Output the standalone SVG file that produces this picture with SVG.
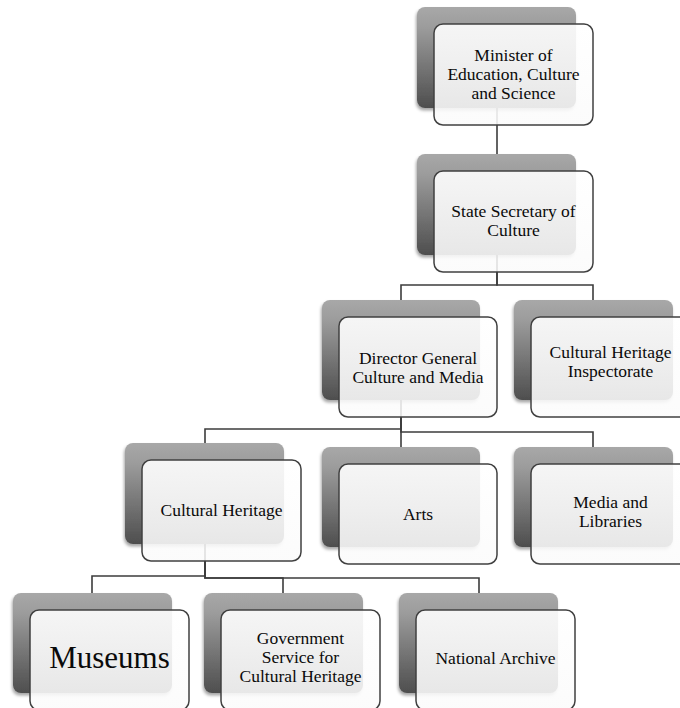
<svg xmlns="http://www.w3.org/2000/svg" width="680" height="708" viewBox="0 0 680 708">
<defs>
<linearGradient id="gBack" x1="0" y1="0" x2="0" y2="1">
<stop offset="0" stop-color="#a8a8a8"/>
<stop offset="0.2" stop-color="#9c9c9c"/>
<stop offset="1" stop-color="#4e4e4e"/>
</linearGradient>
<linearGradient id="gFront" x1="0" y1="0" x2="0" y2="1">
<stop offset="0" stop-color="#ffffff" stop-opacity="0.9"/>
<stop offset="1" stop-color="#fbfbfb" stop-opacity="0.88"/>
</linearGradient>
<filter id="drop" x="-10%" y="-10%" width="120%" height="125%">
<feDropShadow dx="-1" dy="2.5" stdDeviation="1.8" flood-color="#000" flood-opacity="0.35"/>
</filter>
</defs>
<style>
.back{fill:url(#gBack);filter:url(#drop);}
.front{fill:url(#gFront);stroke:#404040;stroke-width:1.5;}
.lbl{font-family:"Liberation Serif","Times New Roman",serif;font-size:17.5px;fill:#0a0a0a;text-anchor:middle;}
.big{font-size:31px;}
.conn{fill:none;stroke:#3c3c3c;stroke-width:1.6;}
</style>
<g id="connectors">
<path class="conn" d="M497,108 V154"/>
<path class="conn" d="M497,255 V285 H401 V300"/>
<path class="conn" d="M497,255 V285 H593 V300"/>
<path class="conn" d="M401,400 V429 H205 V443"/>
<path class="conn" d="M401,400 V447"/>
<path class="conn" d="M401,400 V432 H593 V447"/>
<path class="conn" d="M205,544 V576 H92 V593"/>
<path class="conn" d="M205,544 V578 H283 V593"/>
<path class="conn" d="M205,544 V578 H479 V593"/>
</g>
<g id="minister">
<rect class="back" x="417" y="7" width="159" height="101" rx="8"/>
<rect class="front" x="434" y="24" width="159" height="101" rx="9"/>
<text class="lbl"><tspan x="513.5" y="61">Minister of</tspan><tspan x="513.5" y="80">Education, Culture</tspan><tspan x="513.5" y="99">and Science</tspan></text>
</g>
<g id="state-secretary">
<rect class="back" x="417" y="154" width="159" height="101" rx="8"/>
<rect class="front" x="434" y="171" width="159" height="101" rx="9"/>
<text class="lbl"><tspan x="513.5" y="217">State Secretary of</tspan><tspan x="513.5" y="236">Culture</tspan></text>
</g>
<g id="director-general">
<rect class="back" x="322" y="300" width="158" height="100" rx="8"/>
<rect class="front" x="339" y="317" width="158" height="100" rx="9"/>
<text class="lbl"><tspan x="418" y="364">Director General</tspan><tspan x="418" y="383">Culture and Media</tspan></text>
</g>
<g id="inspectorate">
<rect class="back" x="514" y="300" width="159" height="100" rx="8"/>
<rect class="front" x="531" y="317" width="159" height="100" rx="9"/>
<text class="lbl"><tspan x="610.5" y="358">Cultural Heritage</tspan><tspan x="610.5" y="377">Inspectorate</tspan></text>
</g>
<g id="cultural-heritage">
<rect class="back" x="125" y="443" width="159" height="101" rx="8"/>
<rect class="front" x="142" y="460" width="159" height="101" rx="9"/>
<text class="lbl" x="221.5" y="516">Cultural Heritage</text>
</g>
<g id="arts">
<rect class="back" x="322" y="447" width="158" height="100" rx="8"/>
<rect class="front" x="339" y="464" width="158" height="100" rx="9"/>
<text class="lbl" x="418" y="520">Arts</text>
</g>
<g id="media-libraries">
<rect class="back" x="514" y="447" width="159" height="100" rx="8"/>
<rect class="front" x="531" y="464" width="159" height="100" rx="9"/>
<text class="lbl"><tspan x="610.5" y="508">Media and</tspan><tspan x="610.5" y="527">Libraries</tspan></text>
</g>
<g id="museums">
<rect class="back" x="13" y="593" width="159" height="100" rx="8"/>
<rect class="front" x="30" y="610" width="159" height="100" rx="9"/>
<text class="lbl big" x="109.5" y="668">Museums</text>
</g>
<g id="government-service">
<rect class="back" x="204" y="593" width="159" height="100" rx="8"/>
<rect class="front" x="221" y="610" width="159" height="100" rx="9"/>
<text class="lbl"><tspan x="300.5" y="644">Government</tspan><tspan x="300.5" y="663">Service for</tspan><tspan x="300.5" y="682">Cultural Heritage</tspan></text>
</g>
<g id="national-archive">
<rect class="back" x="399" y="593" width="159" height="100" rx="8"/>
<rect class="front" x="416" y="610" width="159" height="100" rx="9"/>
<text class="lbl" x="495.5" y="664">National Archive</text>
</g>
</svg>
